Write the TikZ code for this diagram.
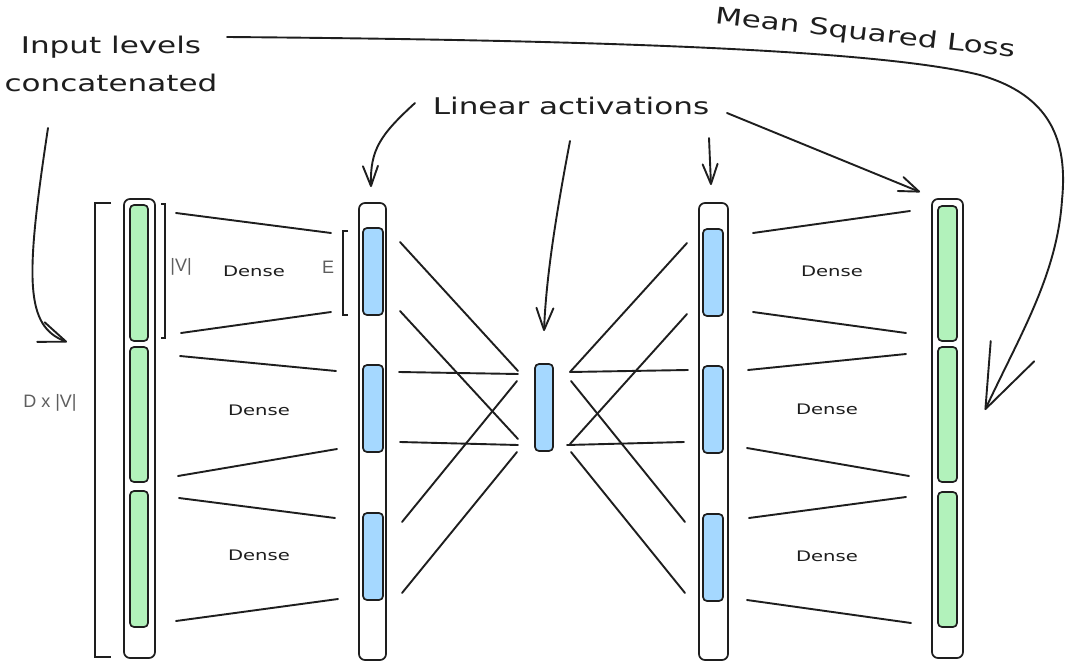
\documentclass[tikz,border=0pt]{standalone}
\usepackage{fontspec}
\usetikzlibrary{arrows.meta,calc}
\newfontfamily\handfont[FakeStretch=1.35]{DejaVu Sans}
\newfontfamily\labelfont{Liberation Sans}
\definecolor{ink}{HTML}{1E1E1E}
\definecolor{greenfill}{HTML}{B2F2BB}
\definecolor{bluefill}{HTML}{A5D8FF}
\definecolor{dimtext}{HTML}{5E5E5E}

\begin{document}
\begin{tikzpicture}[x=1pt,y=-1pt,
  every node/.style={inner sep=0pt,outer sep=0pt},
  colbox/.style={draw=ink,fill=white,line width=1.7pt,rounded corners=6pt},
  greenbar/.style={draw=ink,fill=greenfill,line width=1.7pt,rounded corners=4pt},
  bluebar/.style={draw=ink,fill=bluefill,line width=1.7pt,rounded corners=4pt},
  wire/.style={draw=ink,line width=1.9pt,line cap=round},
  bracket/.style={draw=ink,line width=1.8pt},
  arr/.style={draw=ink,line width=1.9pt,line cap=round,
    -{Straight Barb[round,length=20pt,width=15pt]}},
  bigtext/.style={font=\handfont\fontsize{23}{38}\selectfont,text=ink},
  densetext/.style={font=\handfont\fontsize{14.5}{17}\selectfont,text=ink},
  dimlabel/.style={font=\labelfont\fontsize{18}{20}\selectfont,text=dimtext}
]
\fill[white] (0,0) rectangle (1065,669);
\useasboundingbox (0,0) rectangle (1065,669);

% input column (concatenated one-hot levels)
\node[colbox,minimum width=31pt,minimum height=459pt] (c1) at (139.5,428.5) {};
\node[greenbar,minimum width=18pt,minimum height=136pt] (g1) at (139,273) {};
\node[greenbar,minimum width=18pt,minimum height=135pt] (g2) at (139,414.5) {};
\node[greenbar,minimum width=18pt,minimum height=136pt] (g3) at (139,559) {};

% first embedding column
\node[colbox,minimum width=27pt,minimum height=457pt] (c2) at (372.5,431.5) {};
\node[bluebar,minimum width=20pt,minimum height=87pt] (b1) at (373,271.5) {};
\node[bluebar,minimum width=20pt,minimum height=87pt] (b2) at (373,408.5) {};
\node[bluebar,minimum width=20pt,minimum height=87pt] (b3) at (373,556.5) {};

% bottleneck
\node[bluebar,minimum width=18pt,minimum height=87pt] (mid) at (544,407.5) {};

% second embedding column
\node[colbox,minimum width=29pt,minimum height=457pt] (c4) at (713.5,431.5) {};
\node[bluebar,minimum width=20pt,minimum height=87pt] (d1) at (713,272.5) {};
\node[bluebar,minimum width=20pt,minimum height=87pt] (d2) at (713,409.5) {};
\node[bluebar,minimum width=20pt,minimum height=87pt] (d3) at (713,557.5) {};

% output column
\node[colbox,minimum width=31pt,minimum height=459pt] (c5) at (947.5,428.5) {};
\node[greenbar,minimum width=19pt,minimum height=135pt] (h1) at (947.5,273.5) {};
\node[greenbar,minimum width=19pt,minimum height=135pt] (h2) at (947.5,414.5) {};
\node[greenbar,minimum width=19pt,minimum height=135pt] (h3) at (947.5,559.5) {};

% dense fans, input side
\draw[wire] ($(g1.north east)+(28,8)$) -- ($(b1.north west)+(-32,5)$);
\draw[wire] ($(g1.south east)+(33,-8)$) -- ($(b1.south west)+(-32,-3)$);
\draw[wire] ($(g2.north east)+(32,9)$) -- ($(b2.north west)+(-27,6)$);
\draw[wire] ($(g2.south east)+(30,-6)$) -- ($(b2.south west)+(-26,-3)$);
\draw[wire] ($(g3.north east)+(31,7)$) -- ($(b3.north west)+(-28,5)$);
\draw[wire] ($(g3.south east)+(28,-6)$) -- ($(b3.south west)+(-25,-1)$);

% dense fans, output side
\draw[wire] ($(d1.north east)+(30,4)$) -- ($(h1.north west)+(-28,5)$);
\draw[wire] ($(d1.south east)+(30,-4)$) -- ($(h1.south west)+(-32,-8)$);
\draw[wire] ($(d2.north east)+(25,4)$) -- ($(h2.north west)+(-32,7)$);
\draw[wire] ($(d2.south east)+(24,-5)$) -- ($(h2.south west)+(-29,-6)$);
\draw[wire] ($(d3.north east)+(26,4)$) -- ($(h3.north west)+(-32,5)$);
\draw[wire] ($(d3.south east)+(24,-1)$) -- ($(h3.south west)+(-27,-4)$);

% linear maps into the bottleneck
\draw[wire] ($(b1.north east)+(17,14)$) -- ($(mid.north west)+(-17,7)$);
\draw[wire] ($(b1.south east)+(17,-4)$) -- ($(mid.south west)+(-17,-12)$);
\draw[wire] ($(b2.north east)+(16,7)$) -- ($(mid.north west)+(-17,10)$);
\draw[wire] ($(b2.south east)+(17,-10)$) -- ($(mid.south west)+(-17,-6)$);
\draw[wire] ($(b3.north east)+(19,9)$) -- ($(mid.north west)+(-18,17)$);
\draw[wire] ($(b3.south east)+(19,-7)$) -- ($(mid.south west)+(-18,1)$);

% linear maps out of the bottleneck
\draw[wire] ($(mid.north east)+(17,8)$) -- ($(d1.north west)+(-16,14)$);
\draw[wire] ($(mid.south east)+(17,-7)$) -- ($(d1.south west)+(-16,-2)$);
\draw[wire] ($(mid.north east)+(17,8)$) -- ($(d2.north west)+(-15,4)$);
\draw[wire] ($(mid.south east)+(14,-6)$) -- ($(d2.south west)+(-19,-11)$);
\draw[wire] ($(mid.north east)+(18,17)$) -- ($(d3.north west)+(-18,8)$);
\draw[wire] ($(mid.south east)+(18,1)$) -- ($(d3.south west)+(-18,-8)$);

% size brackets
\draw[bracket] (111,203) -- (95,203) -- (95,657) -- (111,657);
\draw[bracket] (161,204) -- (165,204) -- (165,338) -- (161,338);
\draw[bracket] (348,231) -- (343,231) -- (343,315) -- (348,315);

% labels
\node[dimlabel] (vsize) at (181,267) {|V|};
\node[dimlabel] (esize) at (328,267) {E};
\node[dimlabel] (dsize) at (50,403) {D x |V|};
\node[densetext] (dl1) at (254,271) {Dense};
\node[densetext] (dl2) at (259,410) {Dense};
\node[densetext] (dl3) at (259,555) {Dense};
\node[densetext] (dr1) at (832,271) {Dense};
\node[densetext] (dr2) at (827,409) {Dense};
\node[densetext] (dr3) at (827,556) {Dense};

\node[bigtext,align=center] (inl) at (111,64) {Input levels\\concatenated};
\node[bigtext,anchor=base] (lin) at (571,114) {Linear activations};
\node[bigtext,rotate=-6.5] (msl) at (865,34) {Mean Squared Loss};

% arrow end points
\coordinate (inA) at (48,128);
\coordinate (inB) at (67,342);
\coordinate (la1) at (415,103);
\coordinate (la1e) at (371,187);
\coordinate (la2) at (570,141);
\coordinate (la2e) at (544,331);
\coordinate (la3) at (709,138);
\coordinate (la3e) at (711,185);
\coordinate (la4) at (727,113);
\coordinate (la4e) at (920,192);
\coordinate (lossA) at (227,37);
\coordinate (lossB) at (985,410);

% arrows
\draw[arr,-{Straight Barb[round,length=27pt,width=21pt]}]
  (inA) .. controls (25,280) and (25,326) .. (inB);
\draw[arr] (la1) .. controls (380,135) and (370,150) .. (la1e);
\draw[arr,-{Straight Barb[round,length=22pt,width=17pt]}]
  (la2) .. controls (555,220) and (546,280) .. (la2e);
\draw[arr] (la3) -- (la3e);
\draw[arr] (la4) -- (la4e);
\draw[arr,-{Straight Barb[round,length=64pt,width=48pt]}]
  (lossA) .. controls (600,40) and (880,50) .. (980,75)
  .. controls (1050,95) and (1068,140) .. (1062,200)
  .. controls (1057,275) and (1020,335) .. (lossB);
\end{tikzpicture}
\end{document}
